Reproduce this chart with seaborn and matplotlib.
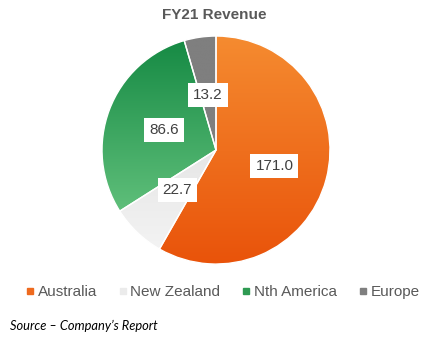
import numpy as np
import matplotlib
matplotlib.use("Agg")
import matplotlib.pyplot as plt
import seaborn as sns
from matplotlib.colors import LinearSegmentedColormap
from matplotlib.lines import Line2D

sns.set_theme(style="white")
plt.rcParams['font.family'] = ['Liberation Sans', 'DejaVu Sans']

regions = ["Australia", "New Zealand", "Nth America", "Europe"]
revenue = [171.0, 22.7, 86.6, 13.2]
# (top colour, bottom colour) of each wedge's vertical gradient
grad_top = ["#F58B30", "#E6E6E6", "#168A44", "#7F7F7F"]
grad_bottom = ["#E9530A", "#F3F3F3", "#5FBF7A", "#7F7F7F"]
legend_colors = ["#EE6A1E", "#EBEBEB", "#2E9A52", "#7F7F7F"]
label_text = "#404040"
title = "FY21 Revenue"
source = "Source \u2013 Company\u2019s Report"

fig = plt.figure(figsize=(4.29, 3.41), dpi=100)
fig.patch.set_facecolor("white")
ax = fig.add_axes([0.2325, 0.219, 0.542, 0.682])
ax.set_aspect("equal")

wedges, _ = ax.pie(revenue, startangle=90, counterclock=False, radius=1.0,
                   wedgeprops=dict(edgecolor="white", linewidth=1.0))

for w, c_top, c_bot in zip(wedges, grad_top, grad_bottom):
    cmap = LinearSegmentedColormap.from_list("g", [c_bot, c_top])
    w.set_facecolor("none")
    verts = w.get_path().vertices
    ymin, ymax = verts[:, 1].min(), verts[:, 1].max()
    xmin, xmax = verts[:, 0].min(), verts[:, 0].max()
    grad = np.linspace(0, 1, 256).reshape(-1, 1)
    im = ax.imshow(grad, cmap=cmap, origin="lower", aspect="auto",
                   extent=[xmin, xmax, ymin, ymax], zorder=0.5)
    im.set_clip_path(w)

ax.set_xlim(-1.02, 1.02)
ax.set_ylim(-1.02, 1.02)
ax.axis("off")

# value labels in white boxes
total = sum(revenue)
start = 90.0
for v in revenue:
    span = v / total * 360.0
    mid = np.deg2rad(start - span / 2)
    r = 0.53 if v > 100 else 0.49
    ax.text(r * np.cos(mid), r * np.sin(mid), f"{v:.1f}", ha="center", va="center",
            fontsize=11, color=label_text, zorder=5,
            bbox=dict(boxstyle="square,pad=0.33", facecolor="white", edgecolor="none"))
    start -= span

fig.text(0.5, 0.955, title, ha="center", va="center", fontsize=11,
         fontweight="bold", color="#595959")

handles = [Line2D([0], [0], marker="s", linestyle="none", markersize=5,
                  markerfacecolor=c, markeredgecolor=c) for c in legend_colors]
fig.legend(handles, regions, loc="center", bbox_to_anchor=(0.517, 0.143), ncol=4,
           frameon=False, fontsize=11, handletextpad=0.1, columnspacing=1.3,
           handlelength=0.8, labelcolor="#595959")

fig.text(0.023, 0.045, source, ha="left", va="center", fontsize=9.3,
         style="italic", color="black", family=["Lato", "DejaVu Sans"])

fig.savefig("out.png", dpi=100, facecolor="white")
